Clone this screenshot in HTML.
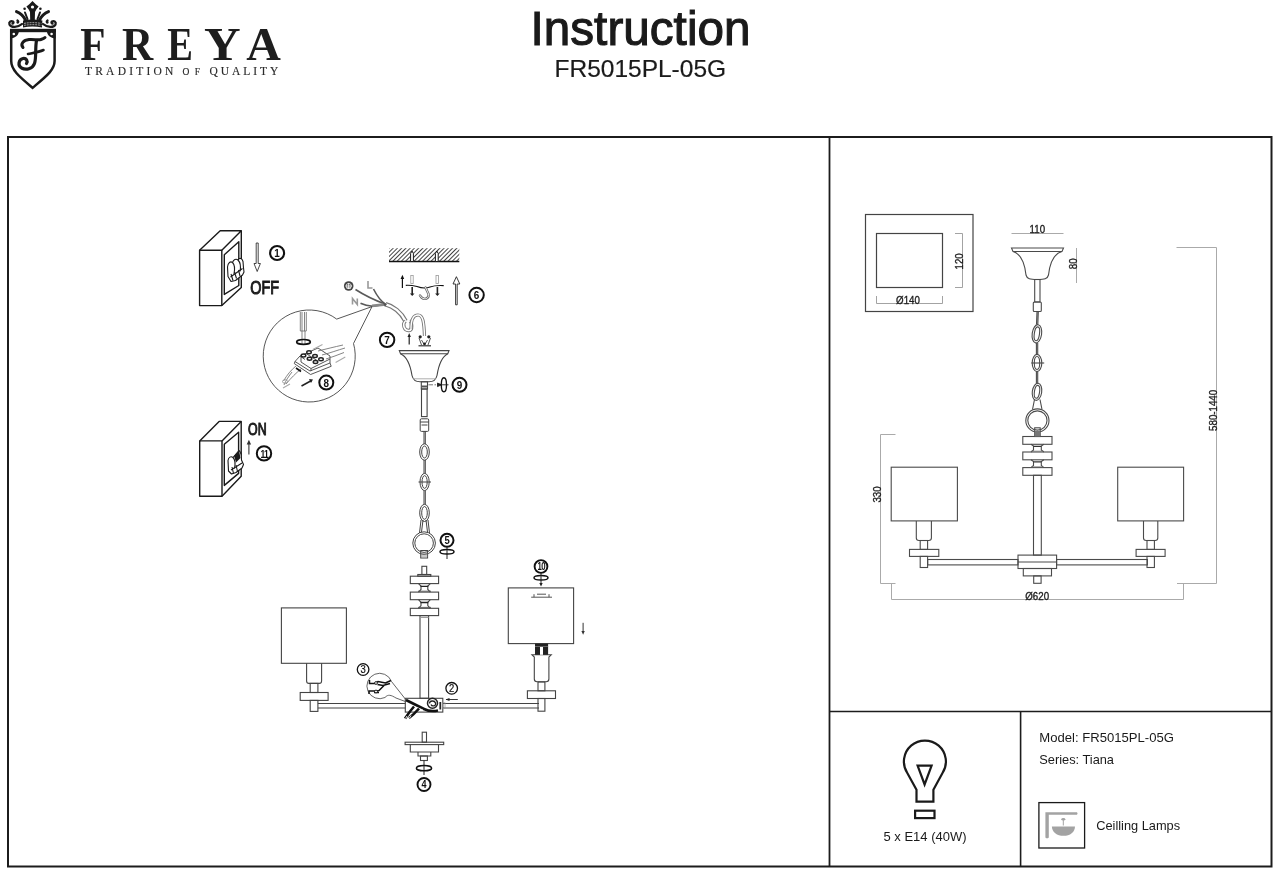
<!DOCTYPE html>
<html><head><meta charset="utf-8"><title>Instruction FR5015PL-05G</title>
<style>
html,body{margin:0;padding:0;background:#fff;width:1280px;height:875px;overflow:hidden}
svg{display:block;will-change:transform}
text{font-family:"Liberation Sans",sans-serif}
.sf text,text.sf{font-family:"Liberation Serif",serif}
</style></head><body>
<svg width="1280" height="875" viewBox="0 0 1280 875">
<rect width="1280" height="875" fill="#fff"/>
<!-- HEADER -->
<g id="logo">
<g fill="#1a1a1a">
<path d="M32.5 1 L36 4.5 L38.6 6.5 L36.3 9.5 L35 12 L34.8 20 H30.2 L30 12 L28.7 9.5 L26.4 6.5 L29 4.5 Z"/>
<circle cx="24.6" cy="8.8" r="1.3"/><circle cx="40.4" cy="8.8" r="1.3"/>
<path d="M23 20.5 C29 19 36 19 42.4 20.5 L42 27.5 C36 26.3 29 26.3 23 27.5 Z"/>
</g>
<circle cx="32.5" cy="7" r="1.6" fill="#fff"/>
<path d="M24 23.4 C29.5 22.4 35.5 22.4 41.4 23.4 M24 25.4 C29.5 24.4 35.5 24.4 41.4 25.4" fill="none" stroke="#fff" stroke-width="0.6" stroke-dasharray="2 0.8"/>
<g fill="none" stroke="#1a1a1a" stroke-linecap="round">
<path d="M16.5 11.6 C20 13 23.5 16 25.5 20" stroke-width="3"/>
<path d="M48.5 11.6 C45 13 41.5 16 39.5 20" stroke-width="3"/>
<path d="M25 12.5 L27.5 19" stroke-width="2"/>
<path d="M40 12.5 L37.5 19" stroke-width="2"/>
<path d="M22 24 C18 27.5 11 28 9.5 24.5 C8.5 22 11 20.5 13 21.5 C14 22.2 13.5 23.6 12.5 23.5 M17.5 20.5 C18.5 21 18.5 22.5 17.5 22.5" stroke-width="2.3"/>
<path d="M43 24 C47 27.5 54 28 55.5 24.5 C56.5 22 54 20.5 52 21.5 C51 22.2 51.5 23.6 52.5 23.5 M47.5 20.5 C46.5 21 46.5 22.5 47.5 22.5" stroke-width="2.3"/>
</g>
<!-- shield -->
<path d="M11.2 30.6 H54.6 V61 C54.6 70 46 76.5 32.6 87.8 C19.2 76.5 11.2 70 11.2 61 Z" fill="none" stroke="#1a1a1a" stroke-width="2.5"/>
<rect x="10" y="28.8" width="46" height="3.4" fill="#1a1a1a"/>
<path d="M10.2 31 H19 C18.5 35.5 15.5 38 10.2 38.5 Z M55.6 31 H46.8 C47.3 35.5 50.3 38 55.6 38.5 Z" fill="#1a1a1a"/>
<circle cx="13.8" cy="34" r="1.3" fill="#fff"/>
<circle cx="51.6" cy="34" r="1.3" fill="#fff"/>
<!-- script F -->
<g fill="none" stroke="#1a1a1a" stroke-linecap="round" stroke-linejoin="round">
<path d="M23 47.5 C20 44 23.5 40 29 39.5 C34 39 38 40.5 41 39.5 C43 38.8 44.5 38 45 37.5" stroke-width="3"/>
<path d="M36.5 40.5 C35 48 36.5 58 34.5 63.5 C32.5 69 26 70.5 21.5 68 C17.5 65.5 18.5 59.5 23 58.5 C26.5 58 28 61 26.5 63.5" stroke-width="3.2"/>
<path d="M28 54 C32 53 38 52.5 43.5 50" stroke-width="2.6"/>
</g>
</g>
<g class="sf" fill="#1e1e1e" font-family="Liberation Serif" font-weight="bold" font-size="47">
<text x="93" y="60.3" text-anchor="middle" transform="translate(93 0) scale(0.88 1) translate(-93 0)">F</text>
<text x="137.5" y="60.3" text-anchor="middle" transform="translate(137.5 0) scale(0.92 1) translate(-137.5 0)">R</text>
<text x="180" y="60.3" text-anchor="middle" transform="translate(180 0) scale(0.82 1) translate(-180 0)">E</text>
<text x="222.4" y="60.3" text-anchor="middle" transform="translate(222.4 0) scale(1.08 1) translate(-222.4 0)">Y</text>
<text x="263.5" y="60.3" text-anchor="middle" transform="translate(263.5 0) scale(1.02 1) translate(-263.5 0)">A</text>
</g>
<g class="sf" fill="#2a2a2a" stroke="#2a2a2a" stroke-width="0.15" font-size="11.5">
<text x="85" y="75.1" textLength="88.3" lengthAdjust="spacing">TRADITION</text>
<text x="182.5" y="75.1" font-size="9.5" textLength="17.6" lengthAdjust="spacing">OF</text>
<text x="209.4" y="75.1" textLength="68.9" lengthAdjust="spacing">QUALITY</text>
</g>
<text x="640.5" y="45.2" font-size="47.6" text-anchor="middle" fill="#1a1a1a" stroke="#1a1a1a" stroke-width="1.1" textLength="220" lengthAdjust="spacing">Instruction</text>
<text x="640.3" y="76.8" font-size="24.5" text-anchor="middle" fill="#1a1a1a" stroke="#1a1a1a" stroke-width="0.2">FR5015PL-05G</text>

<!-- FRAME -->
<g fill="none" stroke="#1c1c1c">
<rect x="8" y="137" width="1263.5" height="729.5" stroke-width="2"/>
<line x1="829.5" y1="137" x2="829.5" y2="866.5" stroke-width="1.8"/>
<line x1="829.5" y1="711.5" x2="1271.5" y2="711.5" stroke-width="1.6"/>
<line x1="1020.6" y1="711.5" x2="1020.6" y2="866.5" stroke-width="1.6"/>
</g>

<!-- LEFT DRAWING -->
<g id="left">
<!-- SWITCH OFF -->
<g fill="none" stroke="#1a1a1a" stroke-width="1.4" stroke-linejoin="round">
<path d="M199.6 250.2 H221.8 V305.6 H199.6 Z"/>
<path d="M199.6 250.2 L220.2 230.8 H241.3 L221.8 250.2"/>
<path d="M241.3 230.8 V287.5 L221.8 305.6"/>
<path d="M224.3 254.7 L238.8 241.7 V285.5 L224.3 294.4 Z"/>
</g>
<g fill="#fff" stroke="#1a1a1a" stroke-width="1.1" stroke-linejoin="round">
<path d="M228 276.5 L227.5 267 C228 262.5 230.5 261 232.5 262.5 C233.5 259.5 236 258.5 238 260 C239.5 257.5 242 258 243 261.5 L243.5 268 L244 272 L242.5 275 L235.5 280.5 L231 281.5 Z"/>
<path d="M232.5 262.5 C234.5 264.5 234.8 270 234 274 M238 260 C240.5 262.5 240.8 267.5 240 271.5"/>
<path d="M230.5 277 L242.5 268.5 M233 280.5 L231 274 M236.5 278.5 L234.5 272 M240 276 L238.5 270"/>
</g>
<path d="M256.2 243 V263.5 H254 L257.2 271.5 L260.4 263.5 H258.2 V243 Z" fill="#fff" stroke="#1a1a1a" stroke-width="0.8"/>
<circle cx="277.1" cy="253" r="7" fill="none" stroke="#111" stroke-width="2.1"/>
<text transform="translate(277.1 256.9) scale(0.9 1)" font-size="11" font-weight="bold" text-anchor="middle" fill="#111">1</text>
<text transform="translate(250.2 294) scale(0.8 1)" font-size="18" fill="#1a1a1a" stroke="#1a1a1a" stroke-width="1.0">OFF</text>

<!-- SWITCH ON -->
<g fill="none" stroke="#1a1a1a" stroke-width="1.4" stroke-linejoin="round">
<path d="M199.7 440.9 H222 V496.3 H199.7 Z"/>
<path d="M199.7 440.9 L219.1 421.4 H241.2 L222 440.9"/>
<path d="M241.2 421.4 V476.3 L222 496.3"/>
<path d="M224.3 444.3 L238.6 432.3 V473.4 L224.3 485.4 Z"/>
</g>
<g fill="#fff" stroke="#1a1a1a" stroke-width="1.1" stroke-linejoin="round">
<path d="M228.5 471 L228 460.5 C228.5 457 231 456 233 457.5 L239 450.5 C241 452 241.5 456 241.5 460 L243.5 464.5 L242 468 L236 472.5 L231.5 474 Z"/>
<path d="M233 457.5 C235 459.5 235.3 464.5 234.5 468.5"/>
<path d="M231 470 L242 463 M233.5 473.5 L232 467 M237.5 471.5 L236 465"/>
</g>
<path d="M234 456 L239 450.5 L240.5 458 L236 462.5 Z" fill="#1a1a1a"/>
<text transform="translate(248.1 434.7) scale(0.76 1)" font-size="16.3" fill="#1a1a1a" stroke="#1a1a1a" stroke-width="1.0">ON</text>
<path d="M248.9 454.6 V443.5" fill="none" stroke="#333" stroke-width="1.1"/>
<path d="M246.7 444.5 L248.9 439.8 L251.1 444.5 Z" fill="#333"/>
<circle cx="264" cy="453.4" r="7.2" fill="none" stroke="#111" stroke-width="2"/>
<text transform="translate(264.3 457.5) scale(0.78 1)" font-size="11" font-weight="bold" text-anchor="middle" fill="#111" letter-spacing="-1">11</text>
<!-- CEILING -->
<defs>
<pattern id="hatch" patternUnits="userSpaceOnUse" width="3" height="3" patternTransform="rotate(45)">
<rect width="3" height="3" fill="#fff"/>
<line x1="0" y1="0" x2="0" y2="3" stroke="#111" stroke-width="1.6"/>
</pattern>
</defs>
<rect x="389" y="248.2" width="70.3" height="13.3" fill="url(#hatch)"/>
<line x1="389" y1="261.5" x2="459.3" y2="261.5" stroke="#111" stroke-width="1.4"/>
<path d="M410.6 261.5 V253.5 L412 251 L413.4 253.5 V261.5 Z M435.4 261.5 V253.5 L436.8 251 L438.2 253.5 V261.5 Z" fill="#fff" stroke="#1a1a1a" stroke-width="1"/>
<!-- bracket -->
<path d="M405.8 285.3 C410 285 413 285.5 417 286.5 C421 288 426 288.5 430 287 C434 285.5 438 285.3 443.7 285.6" fill="none" stroke="#111" stroke-width="1.2"/>
<path d="M402.4 288 V278" stroke="#111" stroke-width="1.2"/>
<path d="M400.6 279 L402.4 274.8 L404.2 279 Z" fill="#111"/>
<rect x="410.8" y="275.5" width="2.4" height="8" fill="none" stroke="#999" stroke-width="0.8"/>
<rect x="436" y="275.5" width="2.4" height="8" fill="none" stroke="#999" stroke-width="0.8"/>
<path d="M411.4 287 H413 V293.5 H414.5 L412.2 296 L409.9 293.5 H411.4 Z M436.6 287 H438.2 V293.5 H439.7 L437.4 296 L435.1 293.5 H436.6 Z" fill="#222"/>
<path d="M425.5 287.5 L428.5 294 C429.5 298 425 300.5 421.5 297.5 L420 295.5" fill="none" stroke="#666" stroke-width="2.4" stroke-linecap="round"/>
<path d="M425.5 287.5 L428.5 294 C429.5 298 425 300.5 421.5 297.5 L420 295.5" fill="none" stroke="#fff" stroke-width="0.9" stroke-linecap="round"/>
<path d="M455.6 304.8 V284 H453 L456.4 276.7 L459.8 284 H457.2 V304.8 Z" fill="#fff" stroke="#222" stroke-width="0.9"/>
<circle cx="476.6" cy="295" r="7.2" fill="none" stroke="#111" stroke-width="2"/>
<text transform="translate(476.6 299.0) scale(0.9 1)" font-size="11" font-weight="bold" text-anchor="middle" fill="#111">6</text>

<!-- WIRES -->
<circle cx="348.7" cy="286" r="4.8" fill="#444"/>
<path d="M345.5 286 H352 M348.7 283 V289 M346.5 288 H351 " stroke="#fff" stroke-width="0.9"/>
<circle cx="348.7" cy="286" r="2.6" fill="none" stroke="#fff" stroke-width="0.7"/>
<path d="M368 281 V288 H372.5" fill="none" stroke="#999" stroke-width="1.6"/>
<path d="M352.5 304.5 V298.5 L357.3 304.5 V298.5" fill="none" stroke="#999" stroke-width="1.6"/>
<g fill="none" stroke="#5a5a5a" stroke-width="1.6">
<path d="M355.5 289.5 C364 295 374 300 385.7 304.3"/>
<path d="M373.5 289 C376 294 379 300 385.7 304.3"/>
<path d="M360.5 303.3 C364 305 368 306 373 306.2 L385.7 304.3"/>
</g>
<path d="M372 305.8 L385.7 304.3" fill="none" stroke="#888" stroke-width="2.8"/>
<path d="M385.7 304.3 C393 306 401 312 405.5 321" fill="none" stroke="#777" stroke-width="4.6"/>
<path d="M385.7 304.3 C393 306 401 312 405.5 321" fill="none" stroke="#fff" stroke-width="2.4"/>
<path d="M382.5 302.3 L387 304 L385 307 Z" fill="#555"/>
<path d="M405.5 321 C402 324 404 331 409 330.5 C413 330 412 322 409.5 321" fill="none" stroke="#777" stroke-width="3.4"/>
<path d="M405.5 321 C402 324 404 331 409 330.5 C413 330 412 322 409.5 321" fill="none" stroke="#fff" stroke-width="1.6"/>
<path d="M411 329 C411 320 413 315 418 315 C423 315 424 322 424.5 336" fill="none" stroke="#777" stroke-width="3.2"/>
<path d="M411 329 C411 320 413 315 418 315 C423 315 424 322 424.5 336" fill="none" stroke="#fff" stroke-width="1.4"/>
<!-- bracket 7 -->
<path d="M418.5 345.8 H431" stroke="#333" stroke-width="1.2"/>
<path d="M419 338 L421.5 345 M430.5 338 L428 345 M421.5 340 L424.5 345 L427.5 340" fill="none" stroke="#555" stroke-width="1"/>
<circle cx="420.2" cy="336.8" r="1.6" fill="#222"/><circle cx="428.8" cy="336.8" r="1.6" fill="#222"/><circle cx="424.5" cy="343.8" r="1.4" fill="#222"/>
<path d="M409.2 344.5 V336" stroke="#222" stroke-width="1.2"/>
<path d="M407.5 337 L409.2 333 L410.9 337 Z" fill="#222"/>
<circle cx="387.1" cy="339.9" r="7.2" fill="none" stroke="#111" stroke-width="2"/>
<text transform="translate(387.1 343.9) scale(0.9 1)" font-size="11" font-weight="bold" text-anchor="middle" fill="#111">7</text>

<!-- INSET 8 -->
<path d="M336.7 319.1 L372 306.6 L353.5 343.5" fill="none" stroke="#444" stroke-width="0.9"/>
<path d="M336.7 319.1 A46 46 0 1 0 353.5 343.5" fill="none" stroke="#444" stroke-width="0.9"/>
<g fill="none" stroke="#666" stroke-width="0.8">
<path d="M300.3 312 V331 H306.3 V312 M302 312 V331 M304.5 312 V331 M302 331 V345 M305 331 V345"/>
</g>
<ellipse cx="303.5" cy="341.9" rx="6.8" ry="2.4" fill="none" stroke="#111" stroke-width="1.7"/>
<g fill="none" stroke="#444" stroke-width="0.9">
<path d="M294.3 363.6 L310.6 374.5 L331.2 366.3 L330 363 L310 371 L295 361.5 Z"/>
<path d="M295 361.5 L300 356 L318 348 L330 356 L330 363"/>
<path d="M301 357 V362 L311 368.5 V371 M311 368.5 L330 359"/>
<path d="M300 356 L305 359.5 M306 353.5 L317 360.5"/>
<path d="M318 351 C326 349 334 347 343 345 M322 355 C330 353 338 350 345 348 M326 359 C332 357 338 355 344 352.5" stroke="#777"/>
<path d="M296 366 C291 370 287 375 283.5 381 M301 369 C296 373 291 378 286 384 M292 372 C289 376 286 380 284 385" stroke="#777"/>
<ellipse cx="285" cy="381.5" rx="2.5" ry="1.8" stroke="#999"/>
</g>
<path d="M312.8 349.5 L322.5 344.6 M335.6 362.5 L345.3 357 M283 388 L290 384" stroke="#aaa" stroke-width="1.1"/>
<path d="M296 368 L301 371.5" stroke="#111" stroke-width="1.6"/>
<g fill="#fff" stroke="#222" stroke-width="1.4">
<ellipse cx="309" cy="352.2" rx="2.3" ry="1.5"/><ellipse cx="303.5" cy="355.5" rx="2.3" ry="1.5"/>
<ellipse cx="315" cy="356" rx="2.3" ry="1.5"/><ellipse cx="309.5" cy="358.7" rx="2.3" ry="1.5"/>
<ellipse cx="321" cy="359.3" rx="2.3" ry="1.5"/><ellipse cx="315.5" cy="362" rx="2.3" ry="1.5"/>
</g>
<path d="M301.5 386 L311.5 380.5" stroke="#222" stroke-width="1.5"/>
<path d="M309 379 L313 379.5 L311 383 Z" fill="#222"/>
<circle cx="326.3" cy="382.6" r="7" fill="none" stroke="#111" stroke-width="2"/>
<text transform="translate(326.3 386.6) scale(0.9 1)" font-size="11" font-weight="bold" text-anchor="middle" fill="#111">8</text>
<!-- CANOPY -->
<g fill="none" stroke="#444" stroke-width="1.1">
<path d="M399.3 350.6 H449 L447.8 353.7 H400.5 Z"/>
<path d="M400.5 353.7 C408 357 410.5 366 412 375.5 C413 380 415 381.8 420 381.8 H429 C434 381.8 436 380 437 375.5 C438.5 366 441 357 447.8 353.7"/>
<path d="M413 378.8 H436" stroke="#999" stroke-width="0.8"/>
<rect x="421.3" y="381.8" width="6.2" height="7.2"/>
<rect x="421.5" y="389" width="5.6" height="27.6"/>
</g>
<path d="M421.3 386.5 H427.5" stroke="#555" stroke-width="2"/>
<path d="M428.4 384.8 H433 M434.5 384.8 H436" stroke="#666" stroke-width="0.9"/>
<path d="M441.5 384.8 H437 M437.5 383 L441.5 384.8 L437.5 386.6 Z" fill="#222" stroke="#222" stroke-width="0.9"/>
<ellipse cx="443.9" cy="384.8" rx="2.6" ry="7" fill="none" stroke="#111" stroke-width="1.4"/>
<path d="M441 384.8 H448.5" stroke="#222" stroke-width="0.9"/>
<circle cx="459.5" cy="384.8" r="7" fill="none" stroke="#111" stroke-width="2"/>
<text transform="translate(459.5 388.8) scale(0.9 1)" font-size="11" font-weight="bold" text-anchor="middle" fill="#111">9</text>

<!-- CHAIN -->
<g fill="none" stroke="#444" stroke-width="1">
<rect x="420.2" y="418.8" width="8.5" height="12.6" rx="1.2"/>
<path d="M420.2 422 H428.7 M421.5 425 H427.5"/>
<path d="M424 431.4 V444 M425.3 431.4 V444"/>
<ellipse cx="424.5" cy="452" rx="4.8" ry="8.2"/>
<ellipse cx="424.5" cy="452" rx="2.8" ry="6"/>
<path d="M424 460 V473.5 M425.3 460 V473.5"/>
<ellipse cx="424.6" cy="482" rx="4.6" ry="8.6"/>
<ellipse cx="424.6" cy="482" rx="2.6" ry="6.4"/>
<path d="M418.5 482 H431"/>
<path d="M424 490.6 V504.3 M425.3 490.6 V504.3"/>
<ellipse cx="424.5" cy="512.9" rx="4.8" ry="8.6"/>
<ellipse cx="424.5" cy="512.9" rx="2.8" ry="6.4"/>
<path d="M421 520 L419.5 533 M428 520 L429.5 533 M423 520 L421.5 532 M426 520 L427.5 532"/>
<circle cx="424.1" cy="543.1" r="11.3"/>
<circle cx="424.1" cy="543.1" r="9.3"/>
<rect x="420.7" y="550.5" width="6.9" height="7.5"/>
</g>
<path d="M420.7 554 H427.6 M420.7 556 H427.6" stroke="#777" stroke-width="0.8"/>
<circle cx="447" cy="540.3" r="6.5" fill="none" stroke="#111" stroke-width="2"/>
<text transform="translate(447 544.1) scale(0.9 1)" font-size="10.5" font-weight="bold" text-anchor="middle" fill="#111">5</text>
<path d="M447 546.8 V559" stroke="#222" stroke-width="1"/>
<ellipse cx="447" cy="551.7" rx="7" ry="2.3" fill="none" stroke="#111" stroke-width="1.5"/>

<!-- BODY -->
<g fill="none" stroke="#444" stroke-width="1.1">
<rect x="421.9" y="566.3" width="4.8" height="8.2"/>
<rect x="417.8" y="574.5" width="13" height="1.7"/>
<rect x="410.3" y="576.2" width="28.3" height="7.4"/>
<path d="M418.5 583.6 L421 586 V589.5 L418.5 592.1 M430.3 583.6 L427.8 586 V589.5 L430.3 592.1"/>
<rect x="410.3" y="592.1" width="28.3" height="7.6"/>
<path d="M418.5 599.7 L421 602.3 V605.5 L418.5 608.3 M430.3 599.7 L427.8 602.3 V605.5 L430.3 608.3"/>
<rect x="410.3" y="608.3" width="28.3" height="7.3"/>
<rect x="420" y="615.6" width="8.6" height="82.7"/>
<path d="M420 617.4 H428.6" stroke="#999"/>
<rect x="405.3" y="698.3" width="37.5" height="13.8"/>
<!-- arms -->
<path d="M317.9 703.5 H405.3 M317.9 708 H405.3"/>
<path d="M442.8 703.5 H539 M442.8 708 H539"/>
<!-- left lamp -->
<rect x="281.4" y="607.9" width="65" height="55.4"/>
<path d="M306.6 663.3 V681 Q306.6 683.4 309 683.4 H319.2 Q321.6 683.4 321.6 681 V663.3"/>
<rect x="310.2" y="683.4" width="7.7" height="9.1"/>
<rect x="300.2" y="692.5" width="27.9" height="7.9"/>
<rect x="310.2" y="700.4" width="7.7" height="11"/>
<!-- right lamp -->
<rect x="508.3" y="587.9" width="65.3" height="55.7"/>
<path d="M534.3 657 V679 Q534.3 681.7 537 681.7 H546.2 Q548.9 681.7 548.9 679 V657 L551.2 654.8 H532 Z"/>
<rect x="538" y="682" width="6.9" height="8.8"/>
<rect x="527.4" y="690.8" width="28.1" height="7.7"/>
<rect x="538" y="698.5" width="6.9" height="12.7"/>
</g>
<path d="M420.5 586.3 H428.3 M420.5 602.5 H428.3" stroke="#222" stroke-width="1.3"/>
<path d="M418 591.2 H431 M418 607.4 H431" stroke="#555" stroke-width="0.9"/>
<rect x="535" y="643.5" width="13.1" height="11.3" fill="#222"/>
<rect x="540" y="647" width="3" height="7.8" fill="#fff"/>
<rect x="535" y="646" width="13.1" height="0.8" fill="#777"/>
<path d="M531.2 597.2 H552 M534 594.2 V597.2 M549 594.2 V597.2 M537 594.2 H546" fill="none" stroke="#555" stroke-width="1"/>
<path d="M583.1 622.8 V632" stroke="#333" stroke-width="1"/>
<path d="M581.4 631 L583.1 634.8 L584.8 631 Z" fill="#333"/>
<circle cx="541" cy="566.5" r="6.4" fill="none" stroke="#111" stroke-width="1.9"/>
<text transform="translate(541.3 570.3) scale(0.74 1)" font-size="10.5" font-weight="bold" text-anchor="middle" fill="#111" letter-spacing="-0.8">10</text>
<ellipse cx="541" cy="577.8" rx="7" ry="2.3" fill="none" stroke="#111" stroke-width="1.5"/>
<path d="M541 573 V584" stroke="#222" stroke-width="1"/>
<path d="M539.3 583 L541 586.5 L542.7 583 Z" fill="#222"/>

<!-- HUB WIRING -->
<path d="M406 700 C412 703 418 706 424 709 C428 711 433 711.5 438 710.5" fill="none" stroke="#111" stroke-width="2.6"/>
<path d="M409 704.5 L423 710" fill="none" stroke="#fff" stroke-width="0.8"/>
<path d="M414 706.5 C410 711 408 714 405 718.5 M419 708.5 C416 712 413 715 409 718" fill="none" stroke="#111" stroke-width="2.6"/>
<path d="M407 716 L405.5 718.5 M411 715.5 L409.5 718" fill="none" stroke="#fff" stroke-width="0.9"/>
<circle cx="432.5" cy="703.3" r="5" fill="none" stroke="#222" stroke-width="1.5"/>
<path d="M429.5 703.5 C429.5 700.5 434.5 700 435.5 703 C436.5 706 432 707 431 704.5" fill="none" stroke="#222" stroke-width="1.3"/>
<path d="M440.3 702 V709.5" stroke="#222" stroke-width="1.8"/>
<rect x="442.8" y="702.8" width="2.2" height="5.8" fill="none" stroke="#999" stroke-width="0.7"/>
<!-- inset 3 -->
<path d="M391.5 681.5 A12.7 12.7 0 1 0 385 697.5 C388 694 391 695 396 698 L405.3 701.5" fill="none" stroke="#555" stroke-width="0.9"/>
<path d="M391.5 681.5 L405.3 699" fill="none" stroke="#555" stroke-width="0.9"/>
<path d="M369.5 680 V683.5 H375 L378 681.5 L385.5 683 L391 680.5 M377.5 684.5 L383 685.5 L390 683.5" fill="none" stroke="#111" stroke-width="1.5"/>
<path d="M369 694 V691 H374 L379 690.5 L384 685.5 M374 692.5 L379 692.5" fill="none" stroke="#111" stroke-width="1.5"/>
<circle cx="376" cy="683" r="1.4" fill="#fff" stroke="#111" stroke-width="0.9"/>
<circle cx="376" cy="691.5" r="1.4" fill="#fff" stroke="#111" stroke-width="0.9"/>
<circle cx="363.1" cy="669.5" r="5.8" fill="none" stroke="#111" stroke-width="1.3"/>
<text transform="translate(363.1 673.3) scale(0.9 1)" font-size="10.5" text-anchor="middle" fill="#111" stroke="#111" stroke-width="0.2">3</text>
<circle cx="451.7" cy="688.3" r="5.8" fill="none" stroke="#111" stroke-width="1.3"/>
<text transform="translate(451.7 692.1) scale(0.9 1)" font-size="10.5" text-anchor="middle" fill="#111" stroke="#111" stroke-width="0.2">2</text>
<path d="M446 699.5 H457.8" stroke="#222" stroke-width="0.9"/>
<path d="M449.5 698 L445.6 699.5 L449.5 701 Z" fill="#222"/>

<!-- BOTTOM CAP -->
<g fill="none" stroke="#444" stroke-width="1.1">
<rect x="422.2" y="732.2" width="4.3" height="10"/>
<rect x="405.1" y="742.2" width="38.6" height="2.4"/>
<path d="M410.3 744.6 V752 H438.5 V744.6"/>
<path d="M418 752 V756 H430.8 V752"/>
<rect x="420.5" y="756" width="6.9" height="4.5"/>
</g>
<path d="M424 760.5 V775" stroke="#222" stroke-width="1"/>
<ellipse cx="424" cy="768.2" rx="7.6" ry="2.6" fill="none" stroke="#111" stroke-width="1.5"/>
<circle cx="424" cy="784.5" r="6.5" fill="none" stroke="#111" stroke-width="1.9"/>
<text transform="translate(424 788.4) scale(0.9 1)" font-size="10" font-weight="bold" text-anchor="middle" fill="#111">4</text>
</g>
<!-- RIGHT DRAWING -->
<g id="right">
<!-- shade detail box -->
<g fill="none" stroke="#444" stroke-width="1.2">
<rect x="865.5" y="214.5" width="107.5" height="97"/>
<rect x="876.5" y="233.5" width="66" height="54"/>
</g>
<g fill="none" stroke="#999" stroke-width="0.9">
<path d="M955 233.5 H962.5 V287.5 H955"/>
<path d="M876.5 296 V303.5 H942.5 V296"/>
</g>
<text transform="translate(908 304) scale(0.9 1)" font-size="10.8" text-anchor="middle" fill="#1e1e1e" stroke="#1e1e1e" stroke-width="0.35">Ø140</text>
<text transform="translate(963 261.4) rotate(-90) scale(0.9 1)" font-size="10.8" text-anchor="middle" fill="#1e1e1e" stroke="#1e1e1e" stroke-width="0.35">120</text>
<g fill="none" stroke="#aaa" stroke-width="1">
<line x1="1011.5" y1="233.5" x2="1063.5" y2="233.5"/>
<path d="M1076.5 248 V283"/>
<path d="M1176.5 247.5 H1216.5 V583.5 H1177"/>
<path d="M895.5 434.5 H880.5 V583.5 H895.5"/>
<path d="M891.5 583 V599.5 H1183.5 V583"/>
</g>
<text transform="translate(1037.3 233.4) scale(0.9 1)" font-size="10.8" text-anchor="middle" fill="#1e1e1e" stroke="#1e1e1e" stroke-width="0.35">110</text>
<text transform="translate(1077 263.8) rotate(-90) scale(0.9 1)" font-size="10.8" text-anchor="middle" fill="#1e1e1e" stroke="#1e1e1e" stroke-width="0.35">80</text>
<text transform="translate(1216.6 410.4) rotate(-90) scale(0.9 1)" font-size="10.8" text-anchor="middle" fill="#1e1e1e" stroke="#1e1e1e" stroke-width="0.35">580-1440</text>
<text transform="translate(881.2 494.5) rotate(-90) scale(0.9 1)" font-size="10.8" text-anchor="middle" fill="#1e1e1e" stroke="#1e1e1e" stroke-width="0.35">330</text>
<text transform="translate(1037.2 599.9) scale(0.9 1)" font-size="10.8" text-anchor="middle" fill="#1e1e1e" stroke="#1e1e1e" stroke-width="0.35">Ø620</text>
<g fill="none" stroke="#4a4a4a" stroke-width="1.1">
<!-- canopy -->
<path d="M1011.5 248 H1063.5 L1062 251.5 H1013 Z"/>
<path d="M1013 251.5 C1022 254 1025 266 1026 275 C1027 279 1030 279.5 1037.3 279.5 C1044.5 279.5 1047.5 279 1048.5 275 C1049.5 266 1052.5 254 1062 251.5"/>
<rect x="1034.7" y="279.5" width="5.3" height="22.5"/>
<rect x="1033.3" y="302" width="8" height="9.5" rx="1"/>
<!-- chain -->
<path d="M1037 311.5 L1036.5 324.5 M1038.3 311.5 L1037.8 324.5"/>
<ellipse cx="1036.9" cy="333.8" rx="4.7" ry="9.2" transform="rotate(8 1036.9 333.8)"/>
<ellipse cx="1036.9" cy="333.8" rx="2.6" ry="7" transform="rotate(8 1036.9 333.8)"/>
<path d="M1036.4 343 V354.5 M1037.7 343 V354.5"/>
<ellipse cx="1037" cy="363" rx="4.8" ry="8.6"/>
<ellipse cx="1037" cy="363" rx="2.7" ry="6.5"/>
<path d="M1031.3 363 H1044.2"/>
<path d="M1036.4 371.5 V383.5 M1037.7 371.5 V383.5"/>
<ellipse cx="1037" cy="391.8" rx="4.7" ry="8.6" transform="rotate(8 1037 391.8)"/>
<ellipse cx="1037" cy="391.8" rx="2.6" ry="6.5" transform="rotate(8 1037 391.8)"/>
<path d="M1034.5 399.5 L1032.5 409.5 M1040 399.5 L1042 409.5"/>
<circle cx="1037.4" cy="420.5" r="11.6"/>
<circle cx="1037.4" cy="420.5" r="9.6"/>
<rect x="1034.7" y="427.8" width="5.5" height="8.7"/>
<!-- disks -->
<rect x="1022.8" y="436.5" width="29.2" height="7.8"/>
<path d="M1031 444.3 L1033.5 446 V450 L1031 452 M1043.8 444.3 L1041.3 446 V450 L1043.8 452"/>
<rect x="1022.8" y="452" width="29.2" height="7.8"/>
<path d="M1031 459.8 L1033.5 461.6 V465.5 L1031 467.6 M1043.8 459.8 L1041.3 461.6 V465.5 L1043.8 467.6"/>
<rect x="1022.8" y="467.6" width="29.2" height="7.7"/>
<rect x="1033.5" y="475.3" width="7.8" height="79.8"/>
<!-- hub -->
<rect x="1018" y="555.1" width="38.6" height="13.4"/>
<line x1="1018" y1="562" x2="1056.6" y2="562"/>
<rect x="1023.3" y="568.5" width="28.2" height="7.4"/>
<rect x="1033.7" y="575.9" width="7.4" height="7.4"/>
<!-- arms -->
<rect x="927.7" y="559.5" width="90.3" height="5.4"/>
<rect x="1056.6" y="559.5" width="90.8" height="5.4"/>
<!-- left lamp -->
<rect x="891.2" y="467.2" width="66.2" height="53.7"/>
<path d="M916.3 520.9 V538 Q916.3 540.5 919 540.5 H928.7 Q931.4 540.5 931.4 538 V520.9"/>
<rect x="920.2" y="540.5" width="7.4" height="8.9"/>
<rect x="909.5" y="549.4" width="29.3" height="7"/>
<rect x="920.2" y="556.4" width="7.4" height="11.1"/>
<!-- right lamp -->
<rect x="1117.7" y="467.2" width="65.9" height="53.7"/>
<path d="M1143.5 520.9 V538 Q1143.5 540.5 1146.2 540.5 H1155.1 Q1157.8 540.5 1157.8 538 V520.9"/>
<rect x="1147" y="540.5" width="7.4" height="8.9"/>
<rect x="1136.1" y="549.4" width="29" height="7"/>
<rect x="1147" y="556.4" width="7.4" height="11.1"/>
</g>
<path d="M1033.5 446.3 H1041.3 M1033.5 461.8 H1041.3" stroke="#333" stroke-width="1.3"/>
<path d="M1031.5 451.2 H1043.3 M1031.5 466.8 H1043.3" stroke="#777" stroke-width="0.8"/>
<rect x="1034.7" y="431" width="5.5" height="5.5" fill="#777"/>
</g>

<!-- BOTTOM INFO -->
<!-- bulb -->
<g fill="none" stroke="#1a1a1a" stroke-width="2.2" stroke-linejoin="miter">
<path d="M916.5 789.7 L907.3 773 A21 21 0 1 1 942.5 773 L933.4 789.7 V801.6 H916.5 Z"/>
<rect x="915.1" y="810.7" width="19.4" height="7.4"/>
<path d="M917.6 765.6 H931.6 L924.6 784.5 Z"/>
</g>
<!-- ceiling lamp icon -->
<rect x="1038.9" y="802.6" width="45.7" height="45.4" fill="none" stroke="#1a1a1a" stroke-width="1.3"/>
<g fill="#a3a3a3">
<path d="M1045.4 812.2 H1077 Q1078.2 813.4 1077 814.7 H1048.8 V837.5 Q1047.1 839.2 1045.4 837.5 Z"/>
<ellipse cx="1063.3" cy="819.3" rx="2" ry="1.3"/>
<rect x="1062.8" y="820" width="1" height="5.5"/>
<path d="M1051.9 826.4 H1075 C1075 832 1070 835.8 1063.5 835.8 C1057 835.8 1051.9 832 1051.9 826.4 Z"/>
</g>
<g id="info">
<text x="1039.3" y="741.6" font-size="13.1" fill="#1a1a1a">Model: FR5015PL-05G</text>
<text x="1039.3" y="764.4" font-size="12.8" fill="#1a1a1a">Series: Tiana</text>
<text x="1096.2" y="830" font-size="12.8" fill="#1a1a1a">Ceilling Lamps</text>
<text x="925" y="841.3" font-size="13" text-anchor="middle" fill="#1a1a1a">5 x E14 (40W)</text>
</g>
</svg>
</body></html>
